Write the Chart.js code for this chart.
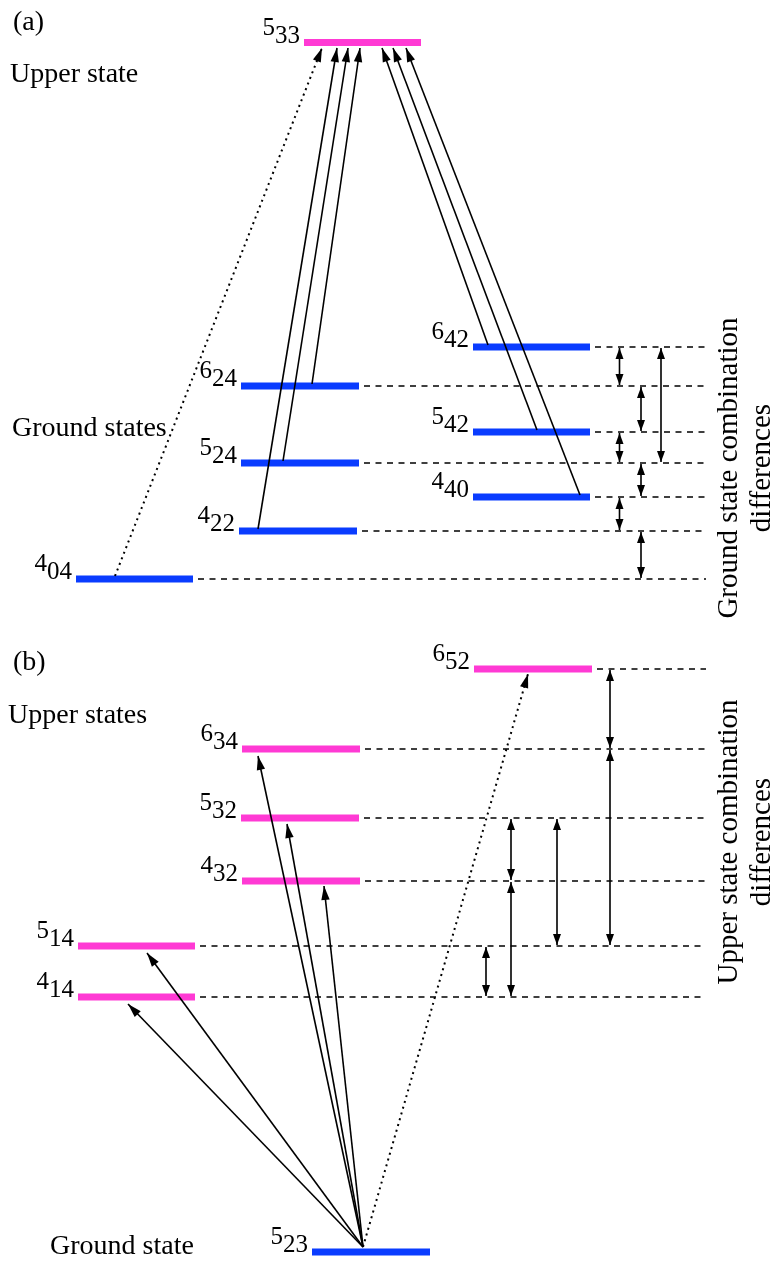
<!DOCTYPE html>
<html><head><meta charset="utf-8">
<script src="https://cdn.jsdelivr.net/npm/chart.js@4/dist/chart.umd.min.js"></script>
<style>html,body{margin:0;padding:0;background:#fff;}#wrap{width:775px;height:1261px;}</style>
</head><body><div id="wrap"><canvas id="c" width="775" height="1261"></canvas></div>
<script>
// ---------- data ----------
const levelNames = ['5_33','6_24','5_24','4_22','4_04','6_42','5_42','4_40','6_52','6_34','5_32','4_32','5_14','4_14','5_23'];
const levelType  = ['upper','ground','ground','ground','ground','ground','ground','ground','upper','upper','upper','upper','upper','upper','ground'];
const levelX0    = [304,241,241,239,76,473,473,473,474,242,241,242,78,78,312];
const levelX1    = [421,359,359,357,193,590,590,590,592,360,359,360,195,195,430];
const levelE     = [42.5,386,463,531,579,347,432,497,669,749,818,881,946,997,1252];
const dashedLevels = ['6_24','5_24','4_22','4_04','6_42','5_42','4_40','6_52','6_34','5_32','4_32','5_14','4_14'];

// transitions: start point and arrow tip
const transX0 = [115,258,283,312,488,537,580, 363,363,363,363,363,363];
const transE0 = [576,529,461,384,345,430,495, 1247,1247,1247,1247,1247,1247];
const transX1 = [322,337,348,360,382,393,406, 128,147,258,287,324,528];
const transE1 = [48,48,48,48,48,48,48, 1004,953,756,824,886,674];
const transDotted = [true,false,false,false,false,false,false, false,false,false,false,false,true];

// combination differences (double arrows) between levels
const diffX    = [619.5,661,641,619.5,641,619.5,641, 610,610,557,511,511,486];
const diffFrom = ['6_42','6_42','6_24','5_42','5_24','4_40','4_22', '6_52','6_34','5_32','5_32','4_32','5_14'];
const diffTo   = ['6_24','5_24','5_42','5_24','4_40','4_22','4_04', '6_34','5_14','5_14','4_32','4_14','4_14'];

// texts
const panelTexts = ['(a)','Upper state','Ground states','(b)','Upper states','Ground state'];
const panelTextX = [13,10,12,13,8,50];
const panelTextY = [30,82,436,670,723,1254];
const sideTexts  = [['Ground state combination','differences'],['Upper state combination','differences']];
const sideTextY  = [468,842];

// ---------- styling ----------
const PINK = '#ff3ad4', BLUE = '#0a3cff', INK = '#000';
const DASH_END = 706;
const idx = n => levelNames.indexOf(n);

const datasets = [];
// dashed guide lines
dashedLevels.forEach(n => {
  const i = idx(n);
  datasets.push({data:[{x:levelX1[i]+5,y:levelE[i]},{x:DASH_END,y:levelE[i]}],
    borderColor:'#000',borderWidth:1.3,borderDash:[6,5.5],showLine:true,pointRadius:0});
});
// transitions
transX0.forEach((x0,i)=>{
  datasets.push({data:[{x:x0,y:transE0[i]},{x:transX1[i],y:transE1[i]}],
    borderColor:INK,borderWidth:transDotted[i]?2:1.6,borderDash:transDotted[i]?[2,4]:[],
    showLine:true,pointRadius:0,borderCapStyle:'butt'});
});
// difference arrow shafts
diffX.forEach((x,i)=>{
  datasets.push({data:[{x:x,y:levelE[idx(diffFrom[i])]+1},{x:x,y:levelE[idx(diffTo[i])]-1}],
    borderColor:INK,borderWidth:1.6,showLine:true,pointRadius:0});
});
// levels
levelNames.forEach((n,i)=>{
  datasets.push({data:[{x:levelX0[i],y:levelE[i]},{x:levelX1[i],y:levelE[i]}],
    borderColor:levelType[i]==='upper'?PINK:BLUE,borderWidth:7,borderCapStyle:'butt',
    showLine:true,pointRadius:0});
});

function head(ctx,x0,y0,x1,y1,len,hw){
  const a=Math.atan2(y1-y0,x1-x0);
  ctx.save();ctx.translate(x1,y1);ctx.rotate(a);
  ctx.beginPath();ctx.moveTo(0,0);ctx.lineTo(-len,hw);ctx.lineTo(-len,-hw);ctx.closePath();
  ctx.fillStyle=INK;ctx.fill();ctx.restore();
}

const decor = {
  id:'decor',
  afterDatasetsDraw(chart){
    const ctx=chart.ctx, xs=chart.scales.x, ys=chart.scales.y;
    const X=v=>xs.getPixelForValue(v), Y=v=>ys.getPixelForValue(v);
    // transition heads
    transX0.forEach((x0,i)=>head(ctx,X(x0),Y(transE0[i]),X(transX1[i]),Y(transE1[i]),14,4.2));
    // difference heads
    diffX.forEach((x,i)=>{
      const a=Y(levelE[idx(diffFrom[i])])+1, b=Y(levelE[idx(diffTo[i])])-1;
      head(ctx,X(x),b,X(x),a,11,4);
      head(ctx,X(x),a,X(x),b,11,4);
    });
    ctx.fillStyle=INK;ctx.textBaseline='alphabetic';
    // level labels
    ctx.font='25px "Liberation Serif", "Times New Roman", serif';
    levelNames.forEach((n,i)=>{
      const [m,s]=n.split('_');
      const ws=ctx.measureText(s).width, wm=ctx.measureText(m).width;
      const xe=X(levelX0[i])-4, yb=Y(levelE[i]);
      ctx.textAlign='left';
      ctx.fillText(s,xe-ws,yb);
      ctx.fillText(m,xe-ws-wm,yb-8);
    });
    // panel texts
    ctx.font='28px "Liberation Serif", "Times New Roman", serif';
    panelTexts.forEach((t,i)=>{ctx.textAlign='left';ctx.fillText(t,panelTextX[i],panelTextY[i]);});
    // side texts
    ctx.font='29px "Liberation Serif", "Times New Roman", serif';
    sideTexts.forEach((lines,i)=>{
      ctx.save();ctx.translate(737,sideTextY[i]);ctx.rotate(-Math.PI/2);
      ctx.textAlign='center';
      ctx.fillText(lines[0],0,0);
      ctx.fillText(lines[1],0,33);
      ctx.restore();
    });
  }
};

new Chart(document.getElementById('c'),{
  type:'scatter',
  data:{datasets},
  options:{
    responsive:false,animation:false,devicePixelRatio:1,
    layout:{padding:0},
    plugins:{legend:{display:false},tooltip:{enabled:false}},
    scales:{
      x:{type:'linear',min:0,max:775,display:false},
      y:{type:'linear',min:0,max:1261,reverse:true,display:false}
    }
  },
  plugins:[decor]
});
</script></body></html>
